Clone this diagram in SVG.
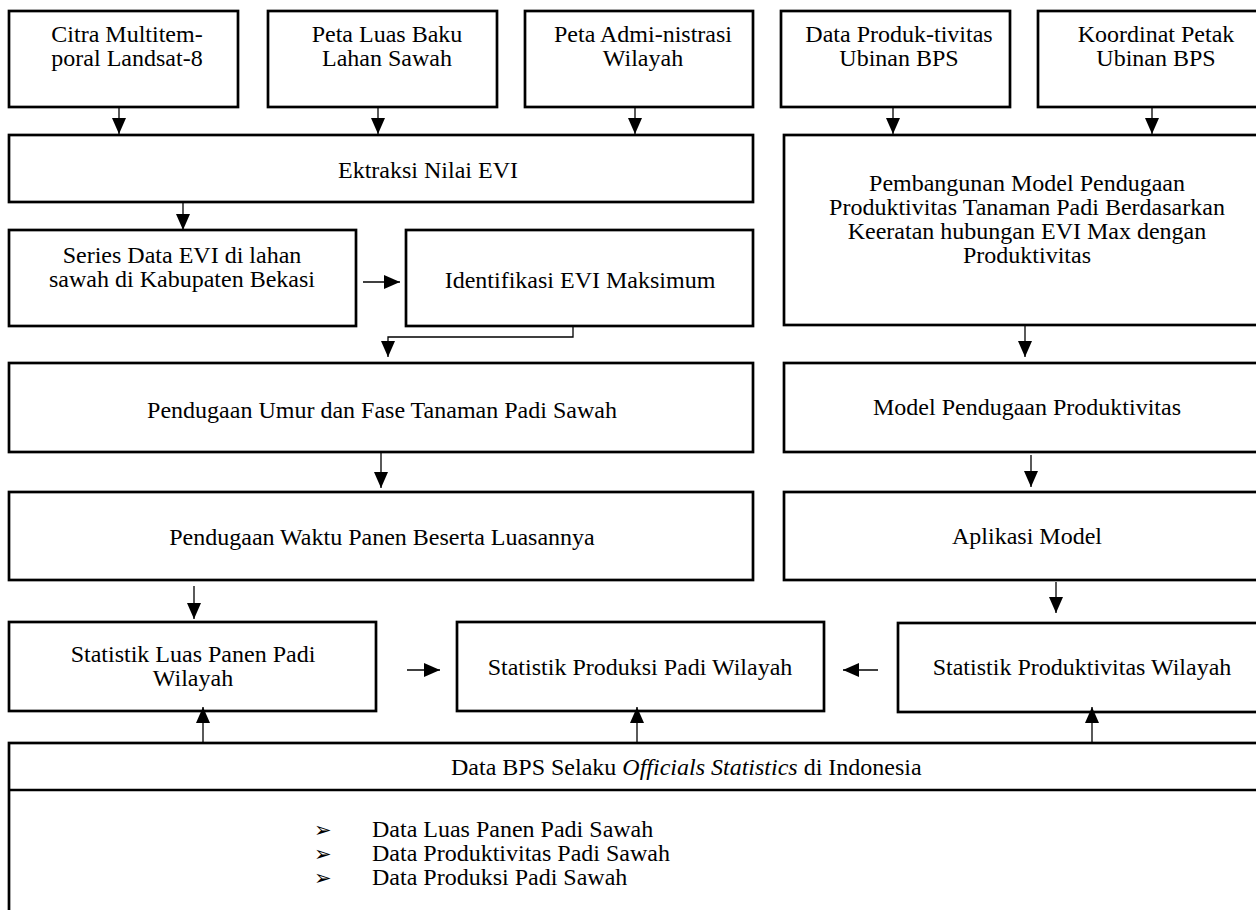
<svg xmlns="http://www.w3.org/2000/svg" width="1256" height="910" viewBox="0 0 1256 910">
<style>
.b{fill:#fff;stroke:#000;stroke-width:2.7}
text{font-family:"Liberation Serif","Times New Roman",serif;font-size:24px;fill:#000}
.c{text-anchor:middle}
.bul{font-family:"DejaVu Sans",sans-serif;font-size:21px}
.ln{fill:none;stroke:#000;stroke-width:1.3}
</style>
<defs>
<marker id="ah" markerUnits="userSpaceOnUse" markerWidth="17" markerHeight="15" refX="16" refY="7" orient="auto">
<path d="M0,0 L16,7 L0,14 z" fill="#000"/>
</marker>
</defs>
<rect width="1256" height="910" fill="#fff"/>
<g id="n1"><rect class="b" x="9" y="11" width="229" height="96"/><text class="c" x="127" y="42">Citra Multitem-</text><text class="c" x="127" y="66">poral Landsat-8</text></g>
<g id="n2"><rect class="b" x="268" y="11" width="229" height="96"/><text class="c" x="387" y="42">Peta Luas Baku</text><text class="c" x="387" y="66">Lahan Sawah</text></g>
<g id="n3"><rect class="b" x="525" y="11" width="228" height="96"/><text class="c" x="643" y="42">Peta Admi-nistrasi</text><text class="c" x="643" y="66">Wilayah</text></g>
<g id="n4"><rect class="b" x="781" y="11" width="229" height="96"/><text class="c" x="899" y="42">Data Produk-tivitas</text><text class="c" x="899" y="66">Ubinan BPS</text></g>
<g id="n5"><rect class="b" x="1038" y="11" width="240" height="96"/><text class="c" x="1156" y="42">Koordinat Petak</text><text class="c" x="1156" y="66">Ubinan BPS</text></g>
<g id="n6"><rect class="b" x="9" y="135" width="744" height="67"/><text class="c" x="428" y="178">Ektraksi Nilai EVI</text></g>
<g id="n7"><rect class="b" x="784" y="135" width="490" height="190"/><text class="c" x="1027" y="191">Pembangunan Model Pendugaan</text><text class="c" x="1027" y="215">Produktivitas Tanaman Padi Berdasarkan</text><text class="c" x="1027" y="239">Keeratan hubungan EVI Max dengan</text><text class="c" x="1027" y="263">Produktivitas</text></g>
<g id="n8"><rect class="b" x="9" y="230" width="347" height="96"/><text class="c" x="182" y="263">Series Data EVI di lahan</text><text class="c" x="182" y="287">sawah di Kabupaten Bekasi</text></g>
<g id="n9"><rect class="b" x="406" y="230" width="347" height="96"/><text class="c" x="580" y="288">Identifikasi EVI Maksimum</text></g>
<g id="n10"><rect class="b" x="9" y="363" width="744" height="89"/><text class="c" x="382" y="418">Pendugaan Umur dan Fase Tanaman Padi Sawah</text></g>
<g id="n11"><rect class="b" x="784" y="363" width="490" height="89"/><text class="c" x="1027" y="415">Model Pendugaan Produktivitas</text></g>
<g id="n12"><rect class="b" x="9" y="492" width="744" height="88"/><text class="c" x="382" y="545">Pendugaan Waktu Panen Beserta Luasannya</text></g>
<g id="n13"><rect class="b" x="784" y="492" width="490" height="88"/><text class="c" x="1027" y="544">Aplikasi Model</text></g>
<g id="n14"><rect class="b" x="9" y="622" width="367" height="89"/><text class="c" x="193" y="662">Statistik Luas Panen Padi</text><text class="c" x="193" y="686">Wilayah</text></g>
<g id="n15"><rect class="b" x="457" y="622" width="367" height="89"/><text class="c" x="640" y="675">Statistik Produksi Padi Wilayah</text></g>
<g id="n16"><rect class="b" x="898" y="623" width="372" height="89"/><text class="c" x="1082" y="675">Statistik Produktivitas Wilayah</text></g>
<g id="n17"><rect class="b" x="9" y="743" width="1262" height="180"/><line x1="9" y1="790" x2="1271" y2="790" stroke="#000" stroke-width="2.7"/>
<text x="451" y="775">Data BPS Selaku <tspan font-style="italic">Officials Statistics</tspan> di Indonesia</text>
<text class="bul" x="314" y="837">➢</text><text x="372" y="837">Data Luas Panen Padi Sawah</text>
<text class="bul" x="314" y="861">➢</text><text x="372" y="861">Data Produktivitas Padi Sawah</text>
<text class="bul" x="314" y="885">➢</text><text x="372" y="885">Data Produksi Padi Sawah</text></g>
<g id="connectors">
<path class="ln" d="M119,107 V134" marker-end="url(#ah)"/>
<path class="ln" d="M378,107 V134" marker-end="url(#ah)"/>
<path class="ln" d="M635,107 V134" marker-end="url(#ah)"/>
<path class="ln" d="M893,107 V134" marker-end="url(#ah)"/>
<path class="ln" d="M1152,107 V134" marker-end="url(#ah)"/>
<path class="ln" d="M183,202 V230" marker-end="url(#ah)"/>
<path class="ln" d="M363,282 H400" marker-end="url(#ah)"/>
<path class="ln" d="M573,326 V337 H388 V357" marker-end="url(#ah)"/>
<path class="ln" d="M381,453 V488" marker-end="url(#ah)"/>
<path class="ln" d="M194,586 V619" marker-end="url(#ah)"/>
<path class="ln" d="M1025,326 V357" marker-end="url(#ah)"/>
<path class="ln" d="M1031,455 V487" marker-end="url(#ah)"/>
<path class="ln" d="M1056,582 V613" marker-end="url(#ah)"/>
<path class="ln" d="M407,670 H440" marker-end="url(#ah)"/>
<path class="ln" d="M878,670 H843" marker-end="url(#ah)"/>
<path class="ln" d="M203,742 V707" marker-end="url(#ah)"/>
<path class="ln" d="M637,742 V707" marker-end="url(#ah)"/>
<path class="ln" d="M1092,742 V707" marker-end="url(#ah)"/>
</g>
</svg>
